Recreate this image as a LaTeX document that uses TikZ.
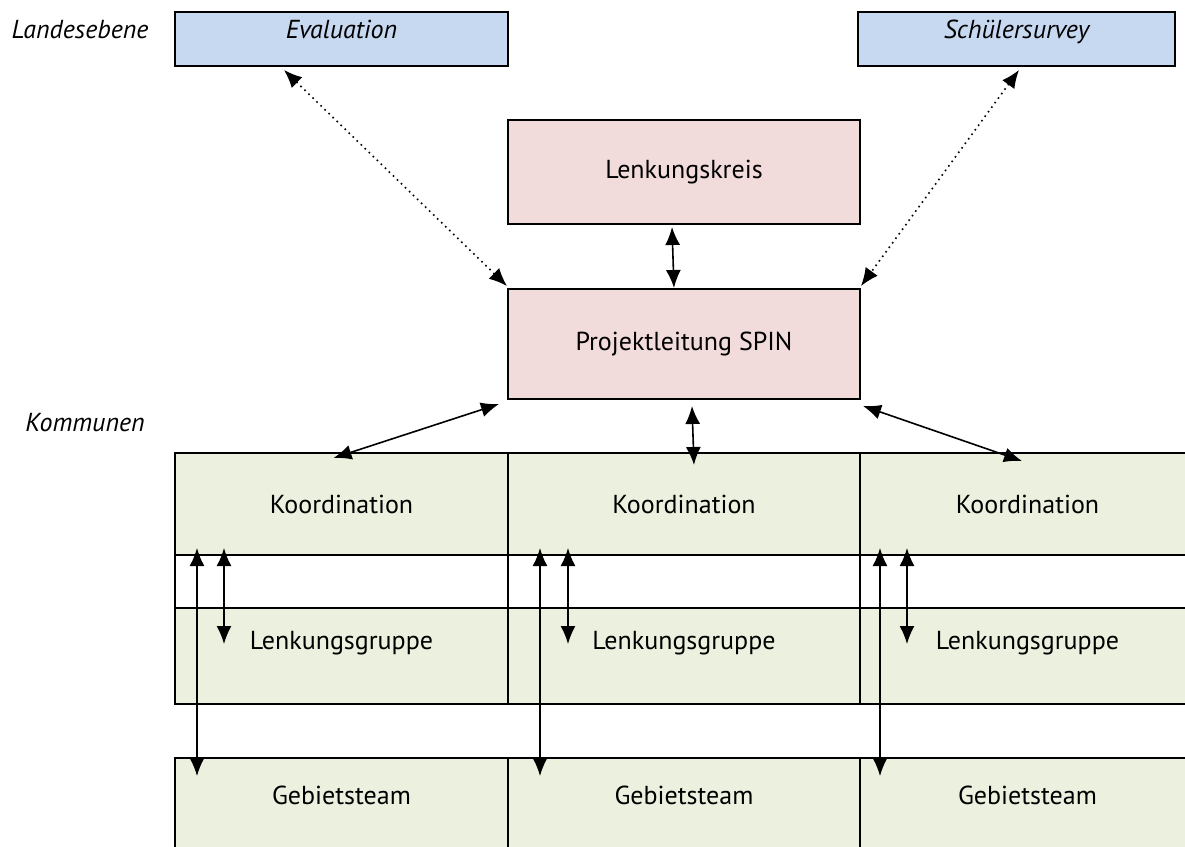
\documentclass[tikz,border=0pt]{standalone}
\usepackage{fontspec}
\setmainfont{PT Sans}
\usetikzlibrary{arrows.meta,calc}

\definecolor{landblue}{RGB}{198,217,240}
\definecolor{leitrose}{RGB}{242,220,219}
\definecolor{kommgreen}{RGB}{235,241,222}

\tikzset{
  box/.style={draw, line width=1pt, inner sep=0pt, font=\fontsize{13}{15}\selectfont},
  landbox/.style={box, fill=landblue, minimum height=27pt},
  leitbox/.style={box, fill=leitrose, minimum width=176pt},
  cell/.style={box, fill=kommgreen},
  gapcell/.style={box, fill=white, minimum height=26.5pt},
  toptext/.style={label={[anchor=north, inner sep=4.5pt, font=\fontsize{13}{15}\selectfont\itshape]north:#1}},
  midtext/.style={label={[yshift=6.5pt, font=\fontsize{13}{15}\selectfont]center:#1}},
  leveltext/.style={font=\fontsize{13}{15}\selectfont\itshape},
  both/.style={{Latex[length=9pt,width=7.5pt]}-{Latex[length=9pt,width=7.5pt]}, line width=0.8pt},
}

\begin{document}
\begin{tikzpicture}[x=0.5pt, y=-0.5pt]
    \useasboundingbox (0,0) rectangle (1185,847);

    % Levels
    \node[leveltext] (land) at (80,30) {Landesebene};
    \node[leveltext] (komm) at (85,423) {Kommunen};

    % Land
    \node[landbox, minimum width=166.5pt, toptext=Evaluation] (eval) at (341.5,39) {};
    \node[landbox, minimum width=158.5pt, toptext=Schülersurvey] (survey) at (1016.5,39) {};

    % Project
    \node[leitbox, minimum height=52pt] (kreis) at (684,172) {Lenkungskreis};
    \node[leitbox, minimum height=55pt] (spin) at (684,344) {Projektleitung SPIN};

    % Communes, column 1
    \node[cell, minimum width=166.5pt, minimum height=51pt] (koord1) at (341.5,504) {Koordination};
    \node[gapcell, minimum width=166.5pt] (gap1) at (341.5,581.5) {};
    \node[cell, minimum width=166.5pt, minimum height=48pt, midtext=Lenkungsgruppe] (lenk1) at (341.5,656) {};
    \node[cell, minimum width=166.5pt, minimum height=51pt, text depth=14pt] (geb1) at (341.5,809) {Gebietsteam};

    % Communes, column 2
    \node[cell, minimum width=176pt, minimum height=51pt] (koord2) at (684,504) {Koordination};
    \node[gapcell, minimum width=176pt] (gap2) at (684,581.5) {};
    \node[cell, minimum width=176pt, minimum height=48pt, midtext=Lenkungsgruppe] (lenk2) at (684,656) {};
    \node[cell, minimum width=176pt, minimum height=51pt, text depth=14pt] (geb2) at (684,809) {Gebietsteam};

    % Communes, column 3 (runs off the page)
    \node[cell, minimum width=167.5pt, minimum height=51pt] (koord3) at (1027.5,504) {Koordination};
    \node[gapcell, minimum width=167.5pt] (gap3) at (1027.5,581.5) {};
    \node[cell, minimum width=167.5pt, minimum height=48pt, midtext=Lenkungsgruppe] (lenk3) at (1027.5,656) {};
    \node[cell, minimum width=167.5pt, minimum height=51pt, text depth=14pt] (geb3) at (1027.5,809) {Gebietsteam};

    % Land <-> project
    \draw[both, dotted] ($(eval.south west)+(110,3)$) -- ($(spin.north west)+(0,-2)$);
    \draw[both, dotted] ($(survey.south west)+(162,3)$) -- ($(spin.north east)+(0,-2)$);
    \draw[both] ($(kreis.south)+(-12,2)$) -- ($(spin.north)+(-10,0)$);

    % Project <-> communes
    \draw[both] ($(spin.south west)+(-8,4)$) -- ($(koord1.north)+(-8,6)$);
    \draw[both] ($(spin.south)+(8,6)$) -- ($(koord2.north)+(10,13)$);
    \draw[both] ($(spin.south east)+(2,6)$) -- ($(koord3.north west)+(163,9)$);

    % Inside communes
    \draw[both] ($(koord1.south west)+(23,-8)$) -- ($(geb1.north west)+(23,19)$);
    \draw[both] ($(koord1.south west)+(50,-8)$) -- ($(lenk1.north west)+(50,37)$);
    \draw[both] ($(koord2.south west)+(33,-8)$) -- ($(geb2.north west)+(33,19)$);
    \draw[both] ($(koord2.south west)+(61,-8)$) -- ($(lenk2.north west)+(61,37)$);
    \draw[both] ($(koord3.south west)+(21,-8)$) -- ($(geb3.north west)+(21,19)$);
    \draw[both] ($(koord3.south west)+(48,-8)$) -- ($(lenk3.north west)+(48,37)$);
\end{tikzpicture}
\end{document}
